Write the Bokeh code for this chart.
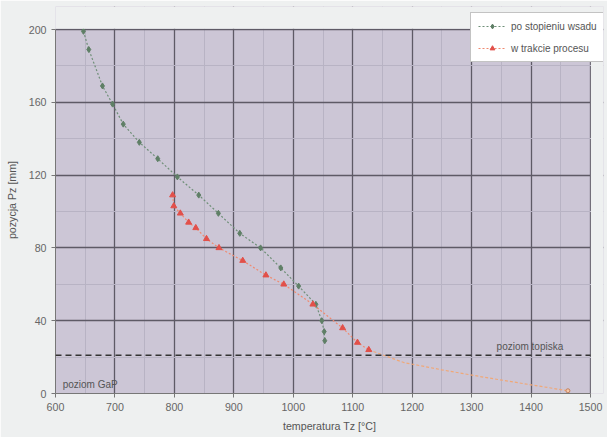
from bokeh.plotting import figure
from bokeh.models import Span, Label, Legend, LegendItem, FixedTicker, Range1d, BoxAnnotation
from bokeh.embed import file_html
from bokeh.resources import INLINE

# ---- data ----
green_T = [647, 656, 679, 696, 714, 741, 772, 805, 841, 874, 910, 945, 979, 1009, 1038, 1048, 1052, 1053]
green_P = [199, 189, 169, 159, 148, 138, 129, 119, 109, 99, 88, 80, 69, 59, 49, 40, 34, 29]

red_T = [797, 799, 810, 824, 836, 854, 875, 915, 954, 984, 1033, 1083, 1108, 1127]
red_P = [109, 103, 99, 94, 91, 85, 80, 73, 65, 60, 49, 36, 28, 24]

tail_T = [1127, 1186, 1250, 1320, 1405, 1462]
tail_P = [24, 17, 13, 9, 4.5, 1.5]

x_ticks = [600, 700, 800, 900, 1000, 1100, 1200, 1300, 1400, 1500]
y_ticks = [0, 40, 80, 120, 160, 200]
level_topiska = 21

FONT = "Liberation Sans"
BORDER = "#eef0f0"

# frame extended to the top/right so that the legend can sit outside the grid area
XMIN, XMAX, YMIN, YMAX = 600, 1500, 0, 200
x_end = XMIN + 548 / (535 / (XMAX - XMIN))
y_end = 387 / (364 / (YMAX - YMIN))

p = figure(width=607, height=437, output_backend="svg", toolbar_location=None,
           x_range=Range1d(XMIN, x_end), y_range=Range1d(YMIN, y_end),
           min_border_left=55, min_border_right=4, min_border_top=6, min_border_bottom=44)
p.background_fill_color = "#ccc6d6"
p.border_fill_color = BORDER
p.outline_line_color = None

for ax in (p.xaxis[0], p.yaxis[0]):
    ax.major_label_text_font = FONT
    ax.major_label_text_font_size = "8pt"
    ax.major_label_text_color = "#666666"
    ax.axis_label_text_font = FONT
    ax.axis_label_text_font_size = "8pt"
    ax.axis_label_text_font_style = "normal"
    ax.axis_label_text_color = "#555555"
    ax.axis_line_color = "#777777"
    ax.major_tick_line_color = "#777777"
    ax.major_tick_out = 4
    ax.major_tick_in = 0
    ax.minor_tick_line_color = None

p.xaxis[0].ticker = FixedTicker(ticks=x_ticks, minor_ticks=list(range(600, 1501, 50)))
p.yaxis[0].ticker = FixedTicker(ticks=y_ticks, minor_ticks=list(range(0, 201, 20)))
p.xaxis[0].bounds = (XMIN, XMAX)
p.yaxis[0].bounds = (YMIN, YMAX)
p.xaxis.axis_label = "temperatura Tz [°C]"
p.yaxis.axis_label = "pozycja Pz [mm]"
p.xaxis[0].axis_label_standoff = 6
p.yaxis[0].axis_label_standoff = 8

for g in (p.xgrid[0], p.ygrid[0]):
    g.grid_line_color = "#5e5a66"
    g.grid_line_width = 1.3
    g.minor_grid_line_color = "#b8b3c4"
    g.minor_grid_line_width = 1

# dashed level line
p.add_layout(Span(location=level_topiska, dimension="width", line_color="#333333",
                  line_dash="6 4", line_width=1.5))

# tail of process curve
p.line(tail_T, tail_P, line_color="#f0a878", line_width=1.2, line_dash="3 2")
p.scatter([tail_T[-1]], [tail_P[-1]], marker="circle", size=4, fill_color="#f6c8a8",
          line_color="#c08060")

gl = p.line(green_T, green_P, line_color="#6f8f78", line_width=1.2, line_dash="2 2")
gm = p.scatter(green_T, green_P, marker="diamond", size=6, fill_color="#5f7f66",
               line_color="#5f7f66")
rl = p.line(red_T, red_P, line_color="#f08a70", line_width=1.2, line_dash="2 2")
rm = p.scatter(red_T, red_P, marker="triangle", size=6, fill_color="#e2504a",
               line_color="#e2504a")

p.add_layout(Label(x=1342, y=level_topiska + 2, text="poziom topiska", text_font=FONT,
                   text_font_size="7.5pt", text_color="#555555"))
p.add_layout(Label(x=612, y=2, text="poziom GaP", text_font=FONT,
                   text_font_size="7.5pt", text_color="#555555"))

# mask the strips outside the chart area
p.add_layout(BoxAnnotation(bottom=YMAX + 0.35, fill_color=BORDER, fill_alpha=1, line_color=None))
p.add_layout(BoxAnnotation(left=XMAX + 0.6, fill_color=BORDER, fill_alpha=1, line_color=None))

legend = Legend(items=[LegendItem(label="po stopieniu wsadu", renderers=[gl, gm]),
                       LegendItem(label="w trakcie procesu", renderers=[rl, rm])],
                location=(415, 331))
legend.label_text_font = FONT
legend.label_text_font_size = "7.5pt"
legend.label_text_color = "#555555"
legend.background_fill_color = "#ffffff"
legend.background_fill_alpha = 1
legend.border_line_color = "#888888"
legend.glyph_width = 28
legend.glyph_height = 12
legend.spacing = 10
legend.padding = 7
legend.margin = 0
legend.label_standoff = 5
p.add_layout(legend, "center")

open("out.html", "w").write(file_html(p, INLINE))
